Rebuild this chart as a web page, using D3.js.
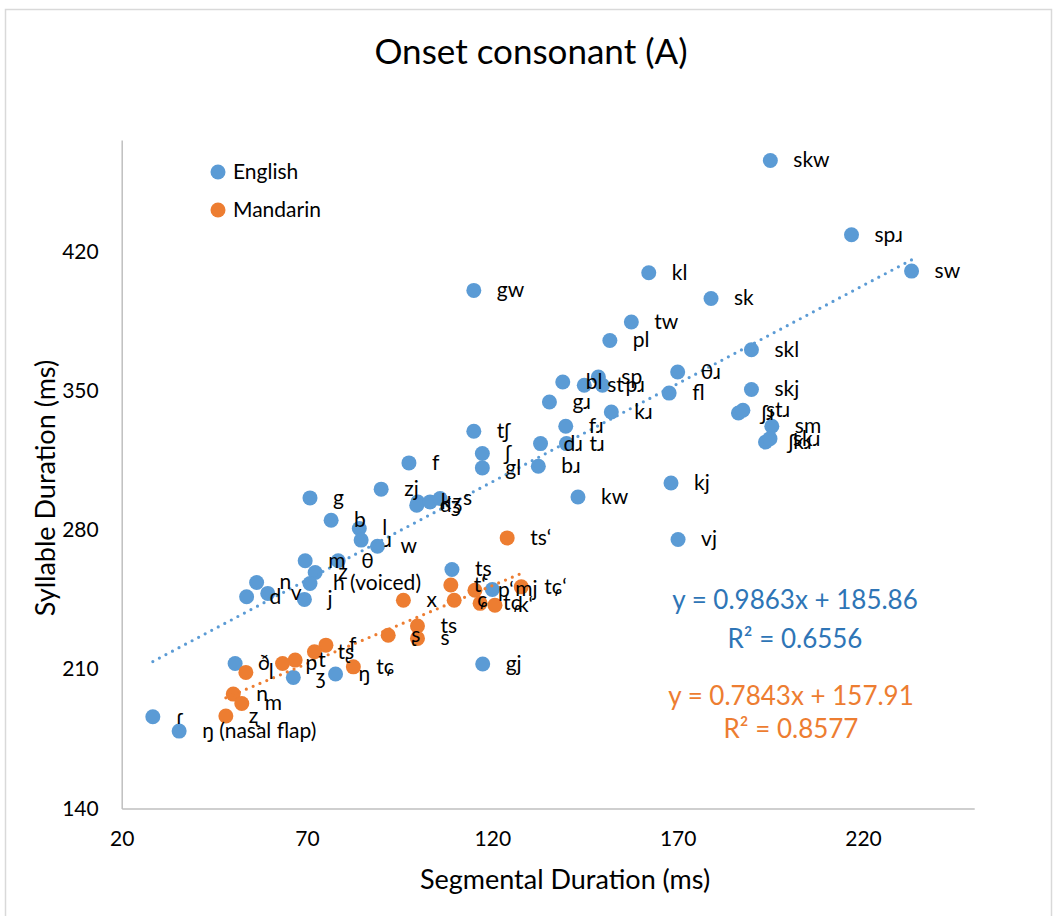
<!DOCTYPE html>
<html>
<head>
<meta charset="utf-8">
<script src="https://cdn.jsdelivr.net/npm/d3@7"></script>
<style>
  html, body { margin: 0; padding: 0; background: #fff; }
  svg { display: block; }
  text { font-family: Lato, "Noto Sans", "DejaVu Sans", sans-serif; fill: #000; }
</style>
</head>
<body>
<svg id="chart" width="1056" height="916"></svg>
<script>
// English onsets: label, segmental duration (ms), syllable duration (ms)
const englishLabels = ["skw","spɹ","sw","kl","gw","sk","tw","pl","skl","θɹ",
  "sp","bl","st","pɹ","fl","skj","gɹ","kɹ","ʃɹ","stɹ","sm","ʃkɹ","skɹ",
  "tʃ","fɹ","dɹ","tɹ","ʃ","gl","bɹ","f","zj","g","kj","kw","k","dʒ","ʒ","s",
  "b","l","ɹ","w","vj","m","θ","z","h (voiced)","n","d","v","j","tʂ","mj",
  "ð","ʒ","ŋ","gj","ɾ","ŋ (nasal flap)"];
const englishSeg = [195.0,216.9,233.1,162.2,115.0,179.0,157.5,151.7,189.9,170.0,
  148.6,139.0,144.8,149.7,167.7,189.9,135.4,152.1,186.4,187.6,195.4,193.7,194.9,
  115.0,139.8,133.0,140.0,117.3,117.3,132.4,97.5,90.0,70.8,168.2,143.1,99.9,99.6,103.2,105.9,
  76.5,84.1,84.6,89.0,170.1,69.5,78.4,72.2,70.8,56.4,53.7,59.4,69.3,109.1,120.0,
  50.6,66.3,77.7,117.4,28.4,35.5];
const englishSyl = [465.7,428.4,410.1,409.3,400.4,396.3,384.5,375.2,370.6,359.4,
  356.9,354.4,352.7,352.7,348.8,350.6,344.3,339.3,338.8,340.2,332.1,324.2,325.9,
  329.6,332.1,323.4,323.4,318.4,311.2,312.0,313.7,300.5,296.1,303.6,296.6,294.0,292.4,294.1,295.8,
  284.9,280.7,274.9,271.8,275.2,264.5,264.5,258.6,253.1,253.6,246.4,248.1,245.1,260.1,250.1,
  212.9,205.9,207.6,212.6,186.1,178.9];

// Mandarin onsets
const mandarinLabels = ["ts‘","tɕ‘","t‘","p‘","x","ɕ","tɕ","k‘","ts","s","ʂ",
  "f","tʂ","t","p","tɕ","l","n","m","ʐ"];
const mandarinSeg = [124.0,127.8,108.8,115.3,96.0,109.7,116.7,120.7,99.8,99.8,91.9,
  75.1,72.0,66.8,63.4,82.5,53.5,50.1,52.4,48.1];
const mandarinSyl = [276.0,251.4,252.3,249.7,244.7,244.7,243.1,242.2,231.7,225.5,227.1,
  222.1,218.8,214.6,212.9,211.2,208.4,197.5,192.8,186.5];

// Linear fits reported for each series
const englishFit = { slope: 0.9863, intercept: 185.86, r2: "0.6556" };
const mandarinFit = { slope: 0.7843, intercept: 157.91, r2: "0.8577" };

const xTicks = [20, 70, 120, 170, 220];
const yTicks = [140, 210, 280, 350, 420];

const colors = { English: "#5B9BD5", Mandarin: "#ED7D31" };
const eqColors = { English: "#2E75B6", Mandarin: "#ED7D31" };

const svg = d3.select("#chart");

// chart frame
svg.append("rect")
  .attr("x", 5.5).attr("y", 9.5).attr("width", 1046).attr("height", 930)
  .attr("fill", "#fff").attr("stroke", "#D9D9D9").attr("stroke-width", 1.5);

const x = d3.scaleLinear().domain([20, 250]).range([121.7, 974.2]);
const y = d3.scaleLinear().domain([140, 476]).range([808.5, 140]);

// title
svg.append("text")
  .attr("x", 531).attr("y", 64)
  .attr("text-anchor", "middle")
  .style("font-size", "35px")
  .text("Onset consonant (A)");

// axes
const xAxis = svg.append("g")
  .attr("transform", `translate(0,${y(140)})`)
  .call(d3.axisBottom(x).tickValues(xTicks).tickSize(0).tickSizeOuter(0).tickPadding(23));
const yAxis = svg.append("g")
  .attr("transform", `translate(${x(20)},0)`)
  .call(d3.axisLeft(y).tickValues(yTicks).tickSize(0).tickSizeOuter(0).tickPadding(23));
[xAxis, yAxis].forEach(g => {
  g.select(".domain").attr("stroke", "#BFBFBF").attr("stroke-width", 1.5);
  g.selectAll("text").style("font-size", "21px").attr("fill", "#000")
    .style("font-family", "Lato, 'Noto Sans', sans-serif");
});

svg.append("text")
  .attr("x", 565).attr("y", 889)
  .attr("text-anchor", "middle")
  .style("font-size", "27px")
  .text("Segmental Duration (ms)");
svg.append("text")
  .attr("transform", "translate(55,488) rotate(-90)")
  .attr("text-anchor", "middle")
  .style("font-size", "27px")
  .text("Syllable Duration (ms)");

function series(labels, seg, syl) {
  return labels.map((l, i) => ({ label: l, sx: seg[i], sy: syl[i] }));
}
const english = series(englishLabels, englishSeg, englishSyl);
const mandarin = series(mandarinLabels, mandarinSeg, mandarinSyl);

// dotted trend lines over each series' x range
function trend(data, fit, color) {
  const [x0, x1] = d3.extent(data, d => d.sx);
  const pts = [x0, x1].map(v => [x(v), y(fit.slope * v + fit.intercept)]);
  svg.append("path")
    .attr("d", d3.line()(pts))
    .attr("fill", "none")
    .attr("stroke", color)
    .attr("stroke-width", 3.2)
    .attr("stroke-linecap", "round")
    .attr("stroke-dasharray", "0 7.4");
}

function markers(data, color) {
  svg.append("g").selectAll("circle").data(data).join("circle")
    .attr("cx", d => x(d.sx)).attr("cy", d => y(d.sy)).attr("r", 7.5)
    .attr("fill", color);
}
function labels(data) {
  svg.append("g").selectAll("text").data(data).join("text")
    .attr("x", d => x(d.sx) + 23).attr("y", d => y(d.sy))
    .attr("dy", "0.33em")
    .style("font-size", "21px")
    .text(d => d.label);
}

markers(english, colors.English);
markers(mandarin, colors.Mandarin);
trend(english, englishFit, colors.English);
trend(mandarin, mandarinFit, colors.Mandarin);
labels(english);
labels(mandarin);

// trend equations
function equation(fit, cx, y1, y2, color) {
  svg.append("text").attr("x", cx).attr("y", y1).attr("text-anchor", "middle")
    .style("font-size", "26px").style("fill", color)
    .text(`y = ${fit.slope}x + ${fit.intercept}`);
  svg.append("text").attr("x", cx).attr("y", y2).attr("text-anchor", "middle")
    .style("font-size", "26px").style("fill", color)
    .text(`R² = ${fit.r2}`);
}
equation(englishFit, 795, 609, 648, eqColors.English);
equation(mandarinFit, 791, 705, 738, eqColors.Mandarin);

// legend
const legend = svg.append("g");
[["English", 172], ["Mandarin", 210]].forEach(([name, ly]) => {
  legend.append("circle").attr("cx", 218).attr("cy", ly).attr("r", 7.5).attr("fill", colors[name]);
  legend.append("text").attr("x", 233).attr("y", ly).attr("dy", "0.35em")
    .style("font-size", "21px").text(name);
});
</script>
</body>
</html>
